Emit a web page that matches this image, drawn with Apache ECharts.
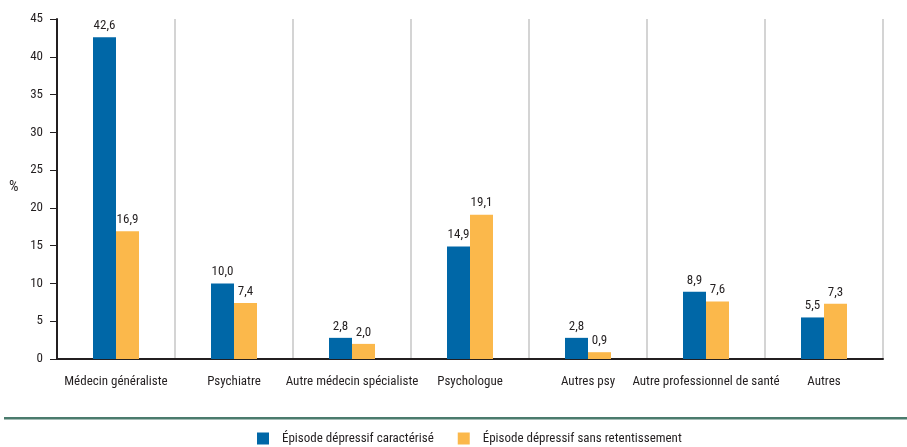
<!DOCTYPE html>
<html>
<head>
<meta charset="utf-8">
<script src="https://cdn.jsdelivr.net/npm/echarts@6/dist/echarts.min.js"></script>
<style>
html,body{margin:0;padding:0;background:#fff;}
#chart{width:907px;height:447px;}
</style>
</head>
<body>
<div id="chart"></div>
<script>
// Recours aux professionnels selon le type d'épisode dépressif (%)
const categories = ['Médecin généraliste', 'Psychiatre', 'Autre médecin spécialiste', 'Psychologue', 'Autres psy', 'Autre professionnel de santé', 'Autres'];
const seriesNames = ['Épisode dépressif caractérisé', 'Épisode dépressif sans retentissement'];
const edCaracterise = [42.6, 10.0, 2.8, 14.9, 2.8, 8.9, 5.5];
const edSansRetentissement = [16.9, 7.4, 2.0, 19.1, 0.9, 7.6, 7.3];
const yTicks = [0, 5, 10, 15, 20, 25, 30, 35, 40, 45];
const unitLabel = '%';

const FONT = '"Roboto Condensed", "Liberation Sans Narrow", sans-serif';
const TEXT = '#231f20';
const FS = 13;

const chart = echarts.init(document.getElementById('chart'));

const labelStyle = {
  show: true,
  position: 'top',
  distance: 5,
  fontFamily: FONT,
  fontSize: FS,
  color: TEXT,
  formatter: p => p.value.toFixed(1).replace('.', ',')
};

chart.setOption({
  animation: false,
  textStyle: { fontFamily: FONT },
  grid: { left: 57, right: 24, top: 19, bottom: 88, containLabel: false },
  xAxis: {
    type: 'category',
    data: categories,
    boundaryGap: true,
    axisLine: { lineStyle: { color: TEXT, width: 2 } },
    axisTick: { show: false },
    axisLabel: { fontFamily: FONT, fontSize: FS, color: TEXT, margin: 16, interval: 0 },
    splitLine: { show: true, interval: 0, lineStyle: { color: '#d4d4d4', width: 2 } }
  },
  yAxis: {
    type: 'value',
    min: yTicks[0],
    max: yTicks[yTicks.length - 1],
    interval: yTicks[1] - yTicks[0],
    axisLine: { show: true, lineStyle: { color: TEXT, width: 2 } },
    axisTick: { show: true, length: 7, lineStyle: { color: TEXT, width: 1 } },
    axisLabel: { fontFamily: FONT, fontSize: FS, color: TEXT, margin: 14 },
    splitLine: { show: false }
  },
  legend: {
    top: 427,
    left: 252,
    itemWidth: 12,
    itemHeight: 12,
    itemGap: 24,
    icon: 'rect',
    textStyle: { fontFamily: FONT, fontSize: FS, color: TEXT, padding: [0, 0, 0, 8] },
    data: seriesNames
  },
  graphic: [
    {
      type: 'rect',
      shape: { x: 4, y: 417, width: 903, height: 2.5 },
      style: { fill: '#4a7b6d' },
      silent: true
    },
    {
      type: 'text',
      left: 9,
      top: 180,
      style: { text: unitLabel, fontFamily: FONT, fontSize: 15, fill: TEXT },
      silent: true
    }
  ],
  series: [
    {
      name: seriesNames[0],
      type: 'bar',
      data: edCaracterise,
      barWidth: 23,
      barGap: '0%',
      itemStyle: { color: '#0067a7' },
      label: labelStyle
    },
    {
      name: seriesNames[1],
      type: 'bar',
      data: edSansRetentissement,
      barWidth: 23,
      barGap: '0%',
      itemStyle: { color: '#fbb84b' },
      label: labelStyle
    }
  ]
});
</script>
</body>
</html>
